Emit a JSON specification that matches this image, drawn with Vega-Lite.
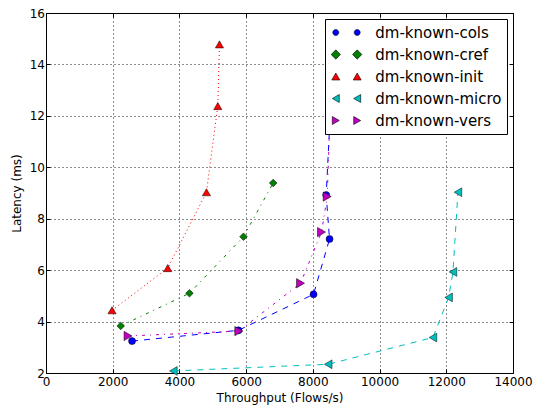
{
  "$schema": "https://vega.github.io/schema/vega-lite/v6.json",
  "width": 467,
  "height": 360,
  "autosize": {"type": "none"},
  "padding": {"left": 46, "top": 13, "right": 22, "bottom": 33},
  "background": "white",
  "config": {
    "view": {"stroke": "black", "strokeWidth": 1},
    "font": "DejaVu Sans",
    "axis": {
      "labelFont": "DejaVu Sans",
      "labelFontSize": 12,
      "labelColor": "black",
      "titleFont": "DejaVu Sans",
      "titleFontSize": 12,
      "titleFontWeight": "normal",
      "titleColor": "black",
      "domain": false,
      "tickColor": "black",
      "tickSize": -4,
      "tickWidth": 1,
      "labelFlush": false,
      "labelOverlap": false,
      "gridColor": "black",
      "gridDash": [1, 3],
      "gridOpacity": 0.9,
      "gridWidth": 1
    }
  },
  "data": {
    "values": [
      {"series": "dm-known-cols", "i": 0, "x": 2580, "y": 3.24},
      {"series": "dm-known-cols", "i": 1, "x": 5770, "y": 3.66},
      {"series": "dm-known-cols", "i": 2, "x": 8020, "y": 5.06},
      {"series": "dm-known-cols", "i": 3, "x": 8500, "y": 7.21},
      {"series": "dm-known-cols", "i": 4, "x": 8400, "y": 8.92},
      {"series": "dm-known-cols", "i": 5, "x": 8640, "y": 15.2},
      {"series": "dm-known-cref", "i": 0, "x": 2240, "y": 3.83},
      {"series": "dm-known-cref", "i": 1, "x": 4300, "y": 5.10},
      {"series": "dm-known-cref", "i": 2, "x": 5920, "y": 7.30},
      {"series": "dm-known-cref", "i": 3, "x": 6810, "y": 9.39},
      {"series": "dm-known-init", "i": 0, "x": 1980, "y": 4.44},
      {"series": "dm-known-init", "i": 1, "x": 3650, "y": 6.08},
      {"series": "dm-known-init", "i": 2, "x": 4810, "y": 9.03},
      {"series": "dm-known-init", "i": 3, "x": 5150, "y": 12.38},
      {"series": "dm-known-init", "i": 4, "x": 5200, "y": 14.78},
      {"series": "dm-known-micro", "i": 0, "x": 3820, "y": 2.08},
      {"series": "dm-known-micro", "i": 1, "x": 8460, "y": 2.34},
      {"series": "dm-known-micro", "i": 2, "x": 11600, "y": 3.38},
      {"series": "dm-known-micro", "i": 3, "x": 12070, "y": 4.94},
      {"series": "dm-known-micro", "i": 4, "x": 12200, "y": 5.93},
      {"series": "dm-known-micro", "i": 5, "x": 12350, "y": 9.03},
      {"series": "dm-known-vers", "i": 0, "x": 2460, "y": 3.44},
      {"series": "dm-known-vers", "i": 1, "x": 5780, "y": 3.63},
      {"series": "dm-known-vers", "i": 2, "x": 7630, "y": 5.49},
      {"series": "dm-known-vers", "i": 3, "x": 8260, "y": 7.48},
      {"series": "dm-known-vers", "i": 4, "x": 8430, "y": 8.86},
      {"series": "dm-known-vers", "i": 5, "x": 8600, "y": 15.3}
    ]
  },
  "resolve": {
    "axis": {"x": "independent", "y": "independent"},
    "scale": {"color": "independent", "shape": "independent", "size": "independent"}
  },
  "layer": [
    {
      "mark": {"type": "line", "strokeWidth": 1, "clip": true},
      "encoding": {
        "x": {"field": "x", "type": "quantitative",
          "scale": {"domain": [0, 14000], "nice": false, "zero": false},
          "axis": {"orient": "bottom", "values": [0, 2000, 4000, 6000, 8000, 10000, 12000, 14000], "format": "d", "title": "Throughput (Flows/s)", "labelPadding": 7.6, "titlePadding": 5}},
        "y": {"field": "y", "type": "quantitative",
          "scale": {"domain": [2, 16], "nice": false, "zero": false},
          "axis": {"orient": "left", "values": [2, 4, 6, 8, 10, 12, 14, 16], "format": "d", "title": "Latency (ms)", "labelPadding": 5.5, "titlePadding": 6}},
        "order": {"field": "i", "type": "quantitative"},
        "color": {"field": "series", "type": "nominal", "legend": null,
          "scale": {"domain": ["dm-known-cols", "dm-known-cref", "dm-known-init", "dm-known-micro", "dm-known-vers"],
                    "range": ["#0000ff", "#008000", "#ff0000", "#00bfbf", "#bf00bf"]}},
        "strokeDash": {"field": "series", "type": "nominal", "legend": null,
          "scale": {"domain": ["dm-known-cols", "dm-known-cref", "dm-known-init", "dm-known-micro", "dm-known-vers"],
                    "range": [[6, 6], [3, 5, 1, 5], [1, 3], [6, 6], [3, 5, 1, 5]]}}
      }
    },
    {
      "mark": {"type": "point", "filled": true, "opacity": 1, "stroke": "black", "strokeWidth": 0.5},
      "encoding": {
        "x": {"field": "x", "type": "quantitative",
          "axis": {"orient": "top", "values": [0, 2000, 4000, 6000, 8000, 10000, 12000, 14000], "labels": false, "grid": false, "title": null}},
        "y": {"field": "y", "type": "quantitative",
          "axis": {"orient": "right", "values": [2, 4, 6, 8, 10, 12, 14, 16], "labels": false, "grid": false, "title": null}},
        "color": {"field": "series", "type": "nominal", "legend": null,
          "scale": {"domain": ["dm-known-cols", "dm-known-cref", "dm-known-init", "dm-known-micro", "dm-known-vers"],
                    "range": ["#0000ff", "#008000", "#ff0000", "#00bfbf", "#bf00bf"]}},
        "shape": {"field": "series", "type": "nominal", "legend": null,
          "scale": {"domain": ["dm-known-cols", "dm-known-cref", "dm-known-init", "dm-known-micro", "dm-known-vers"],
                    "range": ["circle", "diamond", "triangle-up", "triangle-left", "triangle-right"]}},
        "size": {"field": "series", "type": "nominal", "legend": null,
          "scale": {"domain": ["dm-known-cols", "dm-known-cref", "dm-known-init", "dm-known-micro", "dm-known-vers"],
                    "range": [49, 86, 64, 64, 64]}}
      }
    },
    {
      "mark": {"type": "point", "filled": true, "opacity": 0, "stroke": "black", "strokeWidth": 0.5},
      "encoding": {
        "x": {"field": "x", "type": "quantitative", "axis": null},
        "y": {"field": "y", "type": "quantitative", "axis": null},
        "color": {"field": "series", "type": "nominal",
          "scale": {"domain": ["dm-known-cols", "dm-known-cref", "dm-known-init", "dm-known-micro", "dm-known-vers"],
                    "range": ["#0000ff", "#008000", "#ff0000", "#00bfbf", "#bf00bf"]},
          "legend": {"title": null, "orient": "top-right", "offset": 6, "padding": 5.5, "rowPadding": 6,
            "labelOffset": 28.8, "labelFont": "DejaVu Sans", "labelFontSize": 15, "labelColor": "black",
            "symbolSize": 225, "symbolOpacity": 1, "symbolStrokeColor": "black", "symbolStrokeWidth": 0.5,
            "fillColor": "white", "strokeColor": "black", "cornerRadius": 0,
            "encode": {"symbols": {"update": {"stroke": {"value": "black"}, "strokeWidth": {"value": 0.6}, "opacity": {"value": 1}}}}}},
        "shape": {"field": "series", "type": "nominal",
          "scale": {"domain": ["dm-known-cols", "dm-known-cref", "dm-known-init", "dm-known-micro", "dm-known-vers"],
                    "range": [
                      "M -0.76,0 A 0.4,0.4 0 1,0 0.04,0 A 0.4,0.4 0 1,0 -0.76,0 Z M 2.093,0 A 0.4,0.4 0 1,0 2.893,0 A 0.4,0.4 0 1,0 2.093,0 Z",
                      "M -0.98,0 L -0.36,-0.62 L 0.26,0 L -0.36,0.62 Z M 1.873,0 L 2.493,-0.62 L 3.113,0 L 2.493,0.62 Z",
                      "M -0.36,-0.467 L 0.173,0.467 L -0.893,0.467 Z M 2.493,-0.467 L 3.026,0.467 L 1.96,0.467 Z",
                      "M -0.827,0 L 0.107,-0.533 L 0.107,0.533 Z M 2.026,0 L 2.96,-0.533 L 2.96,0.533 Z",
                      "M 0.107,0 L -0.827,-0.533 L -0.827,0.533 Z M 2.96,0 L 2.026,-0.533 L 2.026,0.533 Z"
                    ]},
          "legend": {"title": null, "orient": "top-right", "offset": 6, "padding": 5.5, "rowPadding": 6,
            "labelOffset": 28.8, "labelFont": "DejaVu Sans", "labelFontSize": 15, "labelColor": "black",
            "symbolSize": 225, "symbolOpacity": 1, "symbolStrokeColor": "black", "symbolStrokeWidth": 0.5,
            "fillColor": "white", "strokeColor": "black", "cornerRadius": 0,
            "encode": {"symbols": {"update": {"stroke": {"value": "black"}, "strokeWidth": {"value": 0.6}, "opacity": {"value": 1}}}}}}
      }
    }
  ]
}
